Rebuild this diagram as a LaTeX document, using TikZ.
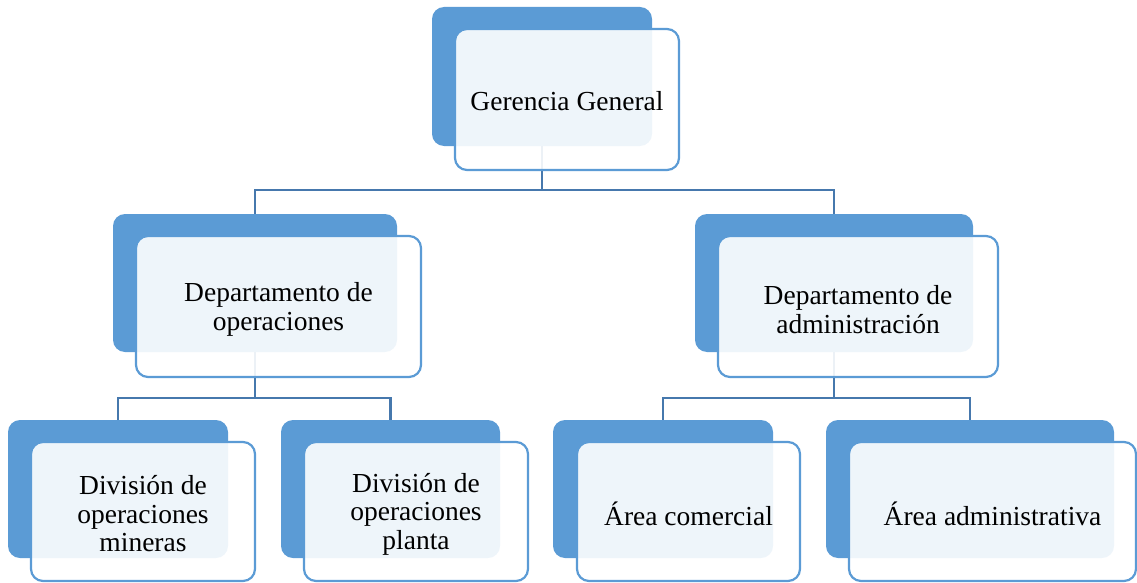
\documentclass[tikz,border=0pt]{standalone}
\usepackage{fontspec}
\setmainfont{Liberation Serif}
\definecolor{backblue}{HTML}{5B9BD5}
\definecolor{frontline}{HTML}{5B9BD5}
\definecolor{connblue}{HTML}{4678AD}
\begin{document}
\begin{tikzpicture}[x=1pt,y=-1pt,
  backbox/.style={draw=none,fill=backblue,rounded corners=12pt,minimum height=138pt,inner sep=0pt,outer sep=0pt},
  frontbox/.style={draw=frontline,line width=2.2pt,fill=white,fill opacity=0.9,rounded corners=12pt,minimum height=140pt,inner sep=0pt,outer sep=0pt},
  lbl/.style={align=center,inner sep=0pt,font=\fontsize{27.5}{28.5}\selectfont},
  conn/.style={draw=connblue,line width=2.4pt}]
\useasboundingbox (0,0) rectangle (1137,583);
% back boxes
\node[backbox,minimum width=220pt,minimum height=139pt] (gB) at (542,76.5) {};
\node[backbox,minimum width=284pt] (opB) at (255,283) {};
\node[backbox,minimum width=278pt] (adB) at (834,283) {};
\node[backbox,minimum width=220pt] (d1B) at (118,489) {};
\node[backbox,minimum width=219pt] (d2B) at (390.5,489) {};
\node[backbox,minimum width=220pt] (acB) at (663,489) {};
\node[backbox,minimum width=288pt] (aaB) at (970,489) {};
% connector bars
\coordinate (bar1) at (0,190);
\coordinate (bar2) at (0,398);
\draw[conn] (gB.south) -- (gB.south |- bar1) -| (opB.north);
\draw[conn] (gB.south |- bar1) -| (adB.north);
\draw[conn] (opB.south) -- (opB.south |- bar2) -| (d1B.north);
\draw[conn] (opB.south |- bar2) -| (d2B.north);
\draw[conn] (adB.south) -- (adB.south |- bar2) -| (acB.north);
\draw[conn] (adB.south |- bar2) -| (aaB.north);
% front boxes
\node[frontbox,minimum width=224pt,minimum height=141pt] (gF) at (567,99.5) {};
\node[frontbox,minimum width=285pt,minimum height=141pt] (opF) at (278.5,306.5) {};
\node[frontbox,minimum width=280pt,minimum height=141pt] (adF) at (858,306.5) {};
\node[frontbox,minimum width=224pt,minimum height=139pt] (d1F) at (143,511.5) {};
\node[frontbox,minimum width=224pt,minimum height=139pt] (d2F) at (416,511.5) {};
\node[frontbox,minimum width=223pt,minimum height=139pt] (acF) at (688.5,511.5) {};
\node[frontbox,minimum width=287pt,minimum height=139pt] (aaF) at (992.5,511.5) {};
% labels
\node[lbl] (gT) at ([yshift=-1.5pt]gF.center) {Gerencia General};
\node[lbl] (opT) at ([yshift=-3pt]opF.center) {Departamento de\\operaciones};
\node[lbl] (adT) at ([yshift=-3pt]adF.center) {Departamento de\\administración};
\node[lbl] (d1T) at ([yshift=-2.5pt]d1F.center) {División de\\operaciones\\mineras};
\node[lbl] (d2T) at ([yshift=-2.5pt]d2F.center) {División de\\operaciones\\planta};
\node[lbl] (acT) at ([yshift=-2pt]acF.center) {Área comercial};
\node[lbl] (aaT) at ([yshift=-2pt]aaF.center) {Área administrativa};
\end{tikzpicture}
\end{document}
